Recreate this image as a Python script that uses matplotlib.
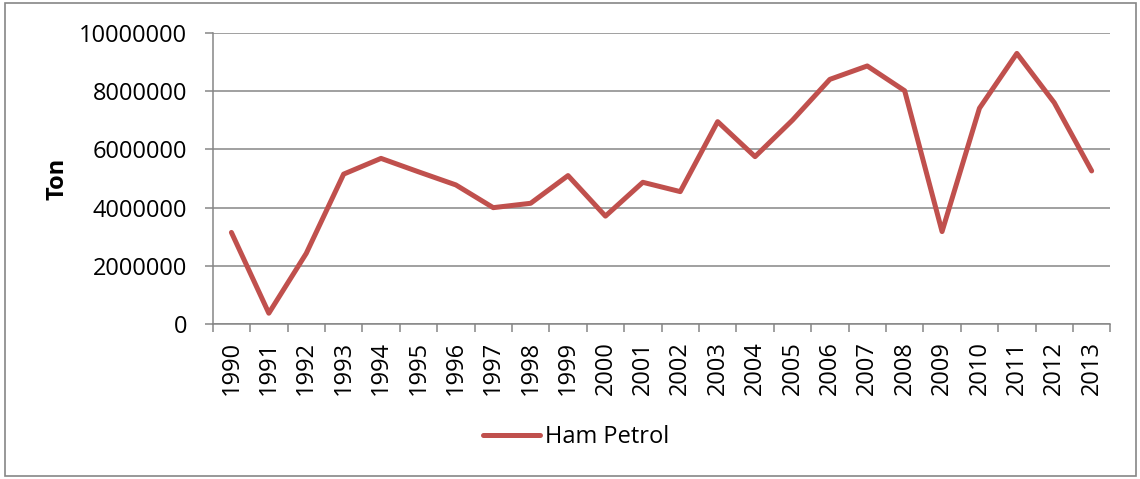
import matplotlib.pyplot as plt
from matplotlib.patches import Rectangle
from matplotlib.ticker import FixedLocator, MultipleLocator

# crude oil production per year, tonnes
years = [str(y) for y in range(1990, 2014)]
ham_petrol = [3150000, 380000, 2430000, 5150000, 5690000, 5230000, 4780000,
              4000000, 4150000, 5100000, 3710000, 4870000, 4550000, 6950000,
              5750000, 7000000, 8400000, 8860000, 8010000, 3180000, 7410000,
              9290000, 7600000, 5260000]

plt.rcParams['font.family'] = ['Open Sans', 'DejaVu Sans']
grey = "#868686"
red = "#C0504D"
fs = 17

fig = plt.figure(figsize=(11.4, 4.79), dpi=100)
ax = fig.add_axes([0.1866, 0.323, 0.7874, 0.6087])

x = list(range(len(years)))
ax.plot(x, ham_petrol, color=red, lw=3.6, solid_joinstyle="round",
        solid_capstyle="round", label="Ham Petrol", clip_on=False)

ax.set_xlim(-0.5, len(years) - 0.5)
ax.set_ylim(0, 10000000)
ax.yaxis.set_major_locator(MultipleLocator(2000000))
ax.yaxis.set_major_formatter(lambda v, p: f"{int(v)}")
ax.grid(axis="y", color=grey, lw=1.1)
ax.set_axisbelow(True)

# year labels at the centres, tick marks on the category boundaries
ax.set_xticks(x)
ax.set_xticklabels(years, rotation=90)
ax.xaxis.set_minor_locator(FixedLocator([i - 0.5 for i in range(len(years) + 1)]))
ax.tick_params(axis="x", which="major", length=0, pad=12, labelsize=fs)
ax.tick_params(axis="x", which="minor", length=6, width=1.1, color=grey,
               direction="out")
ax.tick_params(axis="y", length=6, width=1.1, color=grey, pad=12.5,
               labelsize=fs)

for s in ["top", "right"]:
    ax.spines[s].set_visible(False)
for s in ["left", "bottom"]:
    ax.spines[s].set_color(grey)
    ax.spines[s].set_linewidth(1.1)

ax.set_ylabel("Ton", fontsize=fs, fontweight="bold", labelpad=7)

ax.legend(loc="center", bbox_to_anchor=(576 / 1140, 1 - 437 / 479),
          bbox_transform=fig.transFigure, frameon=False, fontsize=fs,
          handlelength=2.4, handletextpad=0.2)

# chart border
fig.patches.append(Rectangle((5 / 1140, 3 / 479), 1131 / 1140, 473 / 479,
                             transform=fig.transFigure, fill=False,
                             edgecolor=grey, lw=1.2))

fig.savefig("out.png", dpi=100)
